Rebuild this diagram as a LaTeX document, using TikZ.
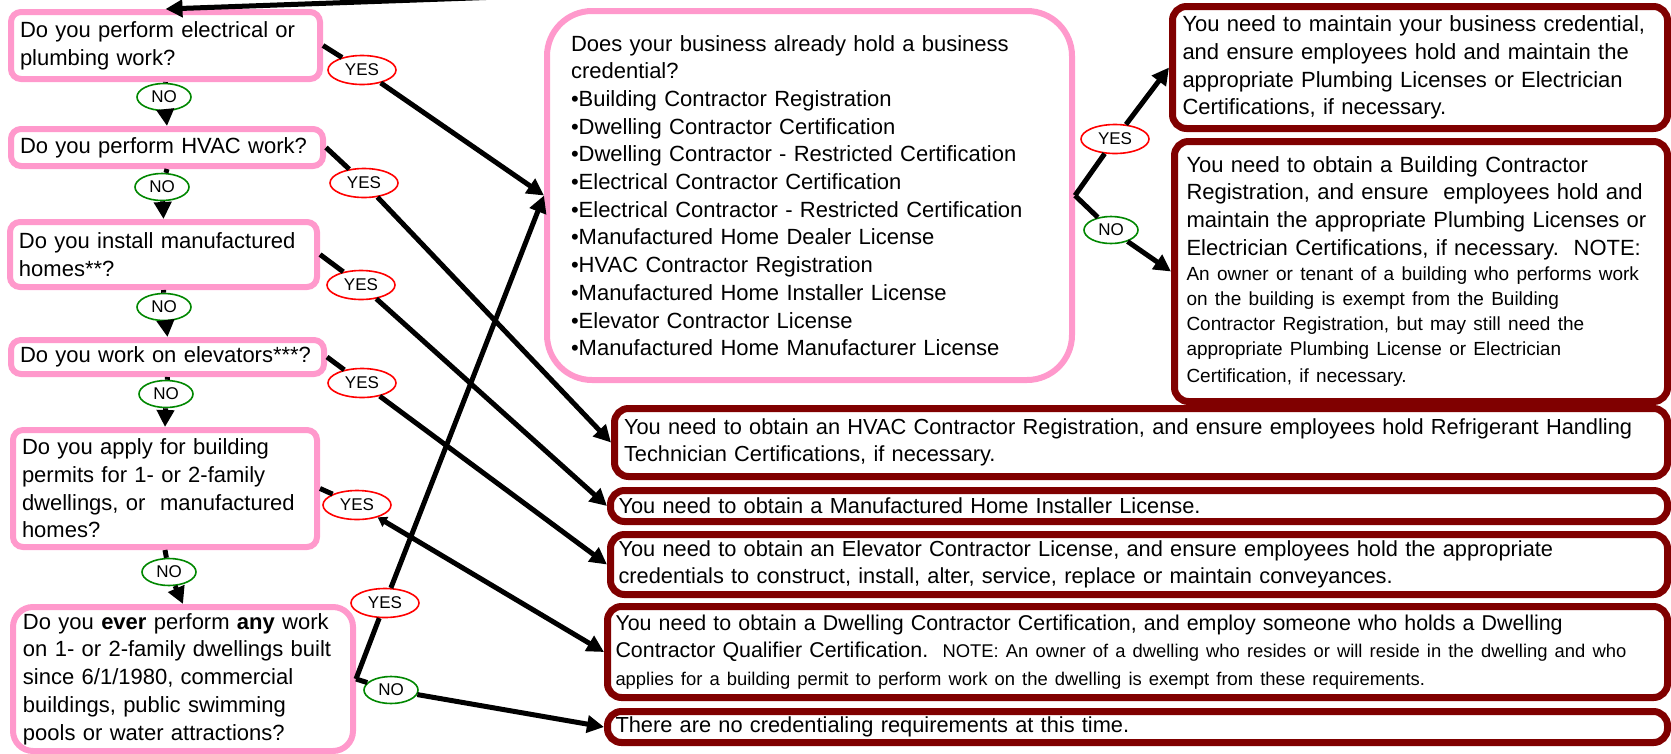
\documentclass[tikz,border=0pt]{standalone}
\usepackage{fontspec}
\setmainfont{Liberation Sans}
\usetikzlibrary{arrows.meta,shapes.geometric}
\definecolor{pinkb}{RGB}{255,153,204}
\definecolor{darkredb}{RGB}{128,0,0}
\definecolor{nogreen}{RGB}{0,135,0}
\newcommand{\mainsz}{\fontsize{22}{27.7}\selectfont}
\newcommand{\botsz}{\fontsize{21.8}{27.5}\selectfont}
\newcommand{\dwsz}{\fontsize{21.4}{27.5}\selectfont}
\newcommand{\smallsz}{\fontsize{19}{25}\selectfont}
\newcommand{\dwsmall}{\fontsize{18.4}{27.5}\selectfont}
\begin{document}
\begin{tikzpicture}[x=1pt,y=-1pt,
  qbox/.style={draw=pinkb, line width=6pt, rounded corners=10pt, fill=white, align=left, inner xsep=9pt, inner ysep=0pt, font=\mainsz},
  abox/.style={draw=darkredb, line width=7pt, rounded corners=14pt, fill=white, align=left, inner xsep=9pt, inner ysep=0pt, font=\mainsz},
  bbox/.style={abox, font=\botsz, inner xsep=8pt},
  yeslab/.style={ellipse, draw=red, line width=1.6pt, fill=white, inner sep=0pt, minimum width=68pt, minimum height=29pt, font=\fontsize{17}{17}\selectfont},
  nolab/.style={ellipse, draw=nogreen, line width=1.6pt, fill=white, inner sep=0pt, minimum width=54pt, minimum height=27pt, font=\fontsize{17}{17}\selectfont},
  arr/.style={line width=5pt, -{Triangle[length=17pt,width=17pt]}},
]
\useasboundingbox (0,0) rectangle (1671,753);
\clip (0,0) rectangle (1671,753);

% question boxes (left column)
\node[qbox, minimum width=309pt, minimum height=67pt, text width=291pt] (b1) at (165.5,45.5)
  {Do you perform electrical or\\ plumbing work?};
\node[qbox, minimum width=312pt, minimum height=37pt, text width=294pt] (b2) at (167,147.5)
  {Do you perform HVAC work?};
\node[qbox, minimum width=307pt, minimum height=65pt, text width=289pt] (b3) at (163.5,254.5)
  {Do you install manufactured\\ homes**?};
\node[qbox, minimum width=313pt, minimum height=34pt, text width=295pt] (b4) at (167.5,357)
  {Do you work on elevators***?};
\node[qbox, minimum width=304pt, minimum height=117pt, text width=286pt] (b5) at (165,488.5)
  {Do you apply for building\\ permits for 1- or 2-family\\ dwellings, or\ \ manufactured\\ homes?};
\node[qbox, rounded corners=20pt, inner xsep=10pt, minimum width=340pt, minimum height=144pt, text width=320pt] (b6) at (183,679)
  {Do you \textbf{ever} perform \textbf{any} work\\ on 1- or 2-family dwellings built\\ since 6/1/1980, commercial\\ buildings, public swimming\\ pools or water attractions?};

% central question
\node[qbox, rounded corners=45pt, inner xsep=24pt, minimum width=525pt, minimum height=369pt, text width=477pt] (cq) at (809.5,195.5)
  {Does your business already hold a business\\ credential?\\ •Building Contractor Registration\\ •Dwelling Contractor Certification\\ •Dwelling Contractor - Restricted Certification\\ •Electrical Contractor Certification\\ •Electrical Contractor - Restricted Certification\\ •Manufactured Home Dealer License\\ •HVAC Contractor Registration\\ •Manufactured Home Installer License\\ •Elevator Contractor License\\ •Manufactured Home Manufacturer License};

% answer boxes (right)
\node[abox, inner xsep=10pt, minimum width=495pt, minimum height=122pt, text width=475pt] (r1) at (1420,67.5)
  {You need to maintain your business credential,\\ and ensure employees hold and maintain the\\ appropriate Plumbing Licenses or Electrician\\ Certifications, if necessary.};
\node[abox, inner xsep=12pt, minimum width=493pt, minimum height=260pt, text width=469pt] (r2) at (1421,271.5)
  {You need to obtain a Building Contractor\\ Registration, and ensure\ \ employees hold and\\ maintain the appropriate Plumbing Licenses or\\ Electrician Certifications, if necessary.\ \ NOTE:\par
   \smallsz \mbox{An owner or tenant of a building who performs work}\\ on the building is exempt from the Building\\ Contractor Registration, but may still need the\\ appropriate Plumbing License or Electrician\\ Certification, if necessary.};

\node[bbox, inner xsep=9.5pt, minimum width=1053pt, minimum height=68pt, text width=1034pt] (hv) at (1141,442.5)
  {\mbox{You need to obtain an HVAC Contractor Registration, and ensure employees hold Refrigerant Handling}\\ Technician Certifications, if necessary.};
\node[bbox, minimum width=1057pt, minimum height=31pt, text width=1041pt] (mh) at (1139,506)
  {You need to obtain a Manufactured Home Installer License.};
\node[bbox, minimum width=1057pt, minimum height=60pt, text width=1041pt] (el) at (1139,564.5)
  {You need to obtain an Elevator Contractor License, and ensure employees hold the appropriate\\ credentials to construct, install, alter, service, replace or maintain conveyances.};
\node[bbox, font=\dwsz, minimum width=1060pt, minimum height=91pt, text width=1044pt] (dw) at (1137.5,652)
  {You need to obtain a Dwelling Contractor Certification, and employ someone who holds a Dwelling\\
   \mbox{Contractor Qualifier Certification.\ \ {\dwsmall NOTE: An owner of a dwelling who resides or will reside in the dwelling and who}}\\
   \mbox{\dwsmall applies for a building permit to perform work on the dwelling is exempt from these requirements.}};
\node[bbox, minimum width=1060pt, minimum height=31pt, text width=1044pt] (nc) at (1137.5,727)
  {There are no credentialing requirements at this time.};

% YES / NO labels
\node[yeslab] (y1) at (362,70) {YES};
\node[yeslab] (y2) at (364,183) {YES};
\node[yeslab] (y3) at (361,285) {YES};
\node[yeslab] (y4) at (362,383) {YES};
\node[yeslab] (y5) at (357,505) {YES};
\node[yeslab] (y6) at (385,603) {YES};
\node[yeslab] (y7) at (1115,139) {YES};
\node[nolab] (n1) at (164,97) {NO};
\node[nolab] (n2) at (162,187) {NO};
\node[nolab] (n3) at (164,307) {NO};
\node[nolab] (n4) at (166,394) {NO};
\node[nolab] (n5) at (169,572) {NO};
\node[nolab] (n6) at (391,690) {NO};
\node[nolab] (n7) at (1111,230) {NO};

\coordinate (topin) at (500,-3);

% connectors
\draw[arr] (topin) -- (b1.north);
\draw[arr] (b1.south) -- (n1) -- (b2.north);
\draw[arr] (b2.south) -- (n2) -- (b3.north);
\draw[arr] (b3.south) -- (n3) -- (b4.north);
\draw[arr] (b4.south) -- (n4) -- (b5.north);
\draw[arr] (b5.south) -- (n5) -- (b6.north);
\draw[arr] (b1.east) -- (y1) -- (cq.west);
\draw[arr] (b2.east) -- (y2) -- (hv.west);
\draw[arr] (b3.east) -- (y3) -- (mh.west);
\draw[arr] (b4.east) -- (y4) -- (el.west);
\draw[line width=5pt, {Triangle[length=9pt,width=11pt]}-{Triangle[length=17pt,width=17pt]}] (b5.east) -- (y5) -- (dw.west);
\draw[arr] (b6.east) -- (y6) -- (cq.west);
\draw[arr] (b6.east) -- (n6) -- (nc.west);
\draw[arr] (cq.east) -- (y7) -- (r1.west);
\draw[arr] (cq.east) -- (n7) -- (r2.west);
\end{tikzpicture}
\end{document}
